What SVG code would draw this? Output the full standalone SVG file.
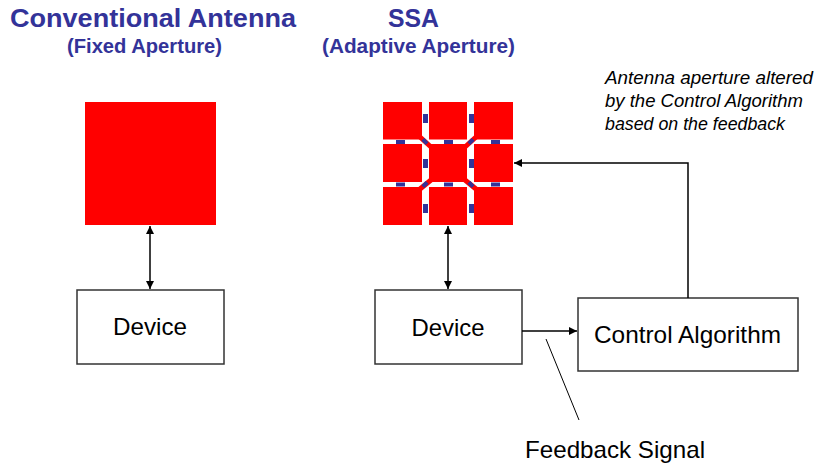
<svg xmlns="http://www.w3.org/2000/svg" width="817" height="465" viewBox="0 0 817 465">
<defs>
<marker id="ah" viewBox="0 0 10 10" refX="10" refY="5" markerWidth="8" markerHeight="8" markerUnits="userSpaceOnUse" orient="auto-start-reverse">
<path d="M0,0 L10,5 L0,10 z" fill="#000"/>
</marker>
<style>
.title{font-family:"Liberation Sans",Arial,sans-serif;font-weight:bold;fill:#333399}
.lbl{font-family:"Liberation Sans",Arial,sans-serif;fill:#000}
.it{font-family:"Liberation Sans",Arial,sans-serif;font-style:italic;font-size:18.5px;fill:#000}
.box{fill:#fff;stroke:#333;stroke-width:1.5}
.red{fill:#ff0000}
.blue{fill:#333399}
.strip{stroke:#ff0000;stroke-width:5}
.conn{stroke:#000;stroke-width:1.5;fill:none}
</style>
</defs>
<rect width="817" height="465" fill="#fff"/>

<g id="titles">
<text class="title" x="10" y="27" font-size="26.5" textLength="286" lengthAdjust="spacingAndGlyphs">Conventional Antenna</text>
<text class="title" x="67" y="53" font-size="20" textLength="155" lengthAdjust="spacingAndGlyphs">(Fixed Aperture)</text>
<text class="title" x="388" y="27" font-size="26.5" textLength="51" lengthAdjust="spacingAndGlyphs">SSA</text>
<text class="title" x="322" y="53" font-size="20" textLength="193" lengthAdjust="spacingAndGlyphs">(Adaptive Aperture)</text>
</g>

<g id="fixed-antenna">
<rect class="red" x="85" y="102" width="131" height="123"/>
</g>

<g id="ssa-antenna">
<line class="strip" x1="420" y1="137" x2="431" y2="147"/>
<line class="strip" x1="476" y1="137" x2="465" y2="147"/>
<line class="strip" x1="420" y1="189" x2="431" y2="180"/>
<line class="strip" x1="476" y1="189" x2="465" y2="180"/>
<rect class="red" x="383" y="102" width="39" height="37.5"/>
<rect class="red" x="429" y="102" width="38" height="37.5"/>
<rect class="red" x="474" y="102" width="39" height="37.5"/>
<rect class="red" x="383" y="144" width="39" height="38"/>
<rect class="red" x="429" y="144" width="38" height="38"/>
<rect class="red" x="474" y="144" width="39" height="38"/>
<rect class="red" x="383" y="187" width="39" height="38"/>
<rect class="red" x="429" y="187" width="38" height="38"/>
<rect class="red" x="474" y="187" width="39" height="38"/>
<rect class="blue" x="423" y="114" width="5" height="9"/>
<rect class="blue" x="469" y="114" width="5" height="9"/>
<rect class="blue" x="423" y="159" width="5" height="9"/>
<rect class="blue" x="469" y="159" width="5" height="9"/>
<rect class="blue" x="423" y="204" width="5" height="9"/>
<rect class="blue" x="469" y="204" width="5" height="9"/>
<rect class="blue" x="396" y="140" width="9" height="4"/>
<rect class="blue" x="444" y="140" width="9" height="4"/>
<rect class="blue" x="491" y="140" width="9" height="4"/>
<rect class="blue" x="396" y="182.5" width="9" height="4"/>
<rect class="blue" x="444" y="182.5" width="9" height="4"/>
<rect class="blue" x="491" y="182.5" width="9" height="4"/>
<rect class="blue" x="422" y="139.5" width="6" height="4" transform="rotate(45 425 141.5)"/>
<rect class="blue" x="468" y="139.5" width="6" height="4" transform="rotate(-45 471 141.5)"/>
<rect class="blue" x="422" y="182.5" width="6" height="4" transform="rotate(-45 425 184.5)"/>
<rect class="blue" x="468" y="182.5" width="6" height="4" transform="rotate(45 471 184.5)"/>
</g>

<g id="device-left">
<rect class="box" x="77" y="290" width="147" height="74"/>
<text class="lbl" x="113" y="335" font-size="24" textLength="74" lengthAdjust="spacingAndGlyphs">Device</text>
</g>

<g id="device-right">
<rect class="box" x="375" y="290" width="147" height="74"/>
<text class="lbl" x="411.5" y="335.5" font-size="24" textLength="73" lengthAdjust="spacingAndGlyphs">Device</text>
</g>

<g id="control-algorithm">
<rect class="box" x="578" y="298" width="220" height="73"/>
<text class="lbl" x="594" y="343" font-size="24" textLength="187" lengthAdjust="spacingAndGlyphs">Control Algorithm</text>
</g>

<g id="annotation">
<text class="it" x="605" y="84" textLength="208" lengthAdjust="spacingAndGlyphs">Antenna aperture altered</text>
<text class="it" x="605" y="107" textLength="198" lengthAdjust="spacingAndGlyphs">by the Control Algorithm</text>
<text class="it" x="605" y="130" textLength="180" lengthAdjust="spacingAndGlyphs">based on the feedback</text>
</g>

<g id="feedback-label">
<text class="lbl" x="525" y="458" font-size="24" textLength="180" lengthAdjust="spacingAndGlyphs">Feedback Signal</text>
</g>

<g id="connectors">
<line class="conn" x1="150" y1="226" x2="150" y2="289" marker-start="url(#ah)" marker-end="url(#ah)"/>
<line class="conn" x1="448" y1="226" x2="448" y2="289" marker-start="url(#ah)" marker-end="url(#ah)"/>
<line class="conn" x1="522" y1="331" x2="577" y2="331" marker-end="url(#ah)"/>
<polyline class="conn" points="688,298 688,163 514,163" marker-end="url(#ah)"/>
<line stroke="#000" stroke-width="1" x1="546" y1="339" x2="579" y2="420"/>
</g>
</svg>
